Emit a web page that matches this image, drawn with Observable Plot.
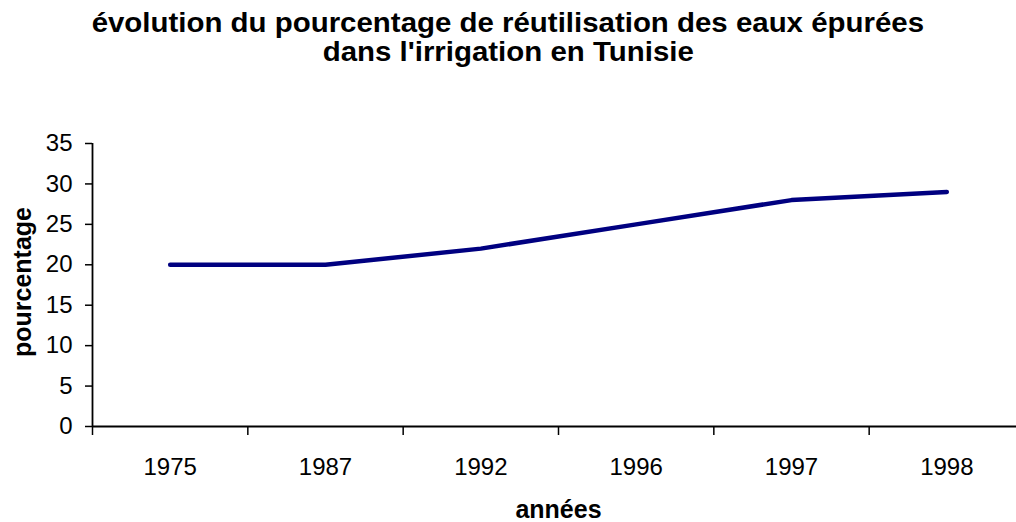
<!DOCTYPE html>
<html>
<head>
<meta charset="utf-8">
<script src="https://cdn.jsdelivr.net/npm/d3@7"></script>
<script src="https://cdn.jsdelivr.net/npm/@observablehq/plot@0.6"></script>
<style>
  html, body { margin: 0; padding: 0; background: #fff; }
  #wrap { width: 1016px; height: 522px; overflow: hidden; font-family: "Liberation Sans", Arial, sans-serif; }
  #title { height: 80px; box-sizing: border-box; padding-top: 9px; text-align: center;
           font-weight: bold; font-size: 27px; line-height: 29px; color: #000; }
  #title span { display: inline-block; transform: scaleX(1.09); white-space: nowrap; }
</style>
</head>
<body>
<div id="wrap">
  <div id="title"><span>évolution du pourcentage de réutilisation des eaux épurées</span><br><span>dans l'irrigation en Tunisie</span></div>
  <div id="chart"></div>
</div>
<script>
const years = ["1975", "1987", "1992", "1996", "1997", "1998"];
const values = [20, 20, 22, 25, 28, 29];
const yTicks = [0, 5, 10, 15, 20, 25, 30, 35];
const xLabel = "années";
const yLabel = "pourcentage";

const data = years.map((y, i) => ({pos: i + 0.5, year: y, value: values[i]}));
const boundaries = d3.range(0, years.length + 1);
const centers = years.map((_, i) => i + 0.5);

const font = "'Liberation Sans', Arial, sans-serif";

const chart = Plot.plot({
  width: 1016,
  height: 442,
  marginTop: 63,
  marginBottom: 96,
  marginLeft: 92,
  marginRight: 0,
  style: {fontFamily: font, fontSize: "24px", color: "#000", background: "#fff", overflow: "visible"},
  x: {type: "linear", domain: [0, years.length], range: [92, 1024]},
  y: {domain: [0, 35]},
  marks: [
    Plot.axisY({ticks: yTicks, tickSize: 7, tickPadding: 13, fontSize: 24, strokeWidth: 1.5, label: null}),
    Plot.axisX({ticks: boundaries, tickSize: 9, tickFormat: () => "", strokeWidth: 1.5, label: null}),
    Plot.axisX({ticks: centers, tickSize: 0, tickPadding: 31, fontSize: 24, tickFormat: d => years[Math.round(d - 0.5)], label: null}),
    Plot.ruleY([0], {x1: 0, x2: years.length, stroke: "#000", strokeWidth: 1.8}),
    Plot.ruleX([0], {y1: 0, y2: 35, stroke: "#000", strokeWidth: 1.8}),
    Plot.line(data, {x: "pos", y: "value", stroke: "#000080", strokeWidth: 4.5, strokeLinecap: "round", strokeLinejoin: "round"}),
    Plot.text([xLabel], {x: () => years.length / 2, y: () => 0, dy: 83, textAnchor: "middle", lineAnchor: "middle", fontWeight: "bold", fontSize: 25, fill: "#000"}),
    Plot.text([yLabel], {x: () => 0, y: () => 17.5, dx: -70, dy: -3, rotate: -90, textAnchor: "middle", lineAnchor: "middle", fontWeight: "bold", fontSize: 25, fill: "#000"})
  ]
});
document.getElementById("chart").appendChild(chart);
</script>
</body>
</html>
